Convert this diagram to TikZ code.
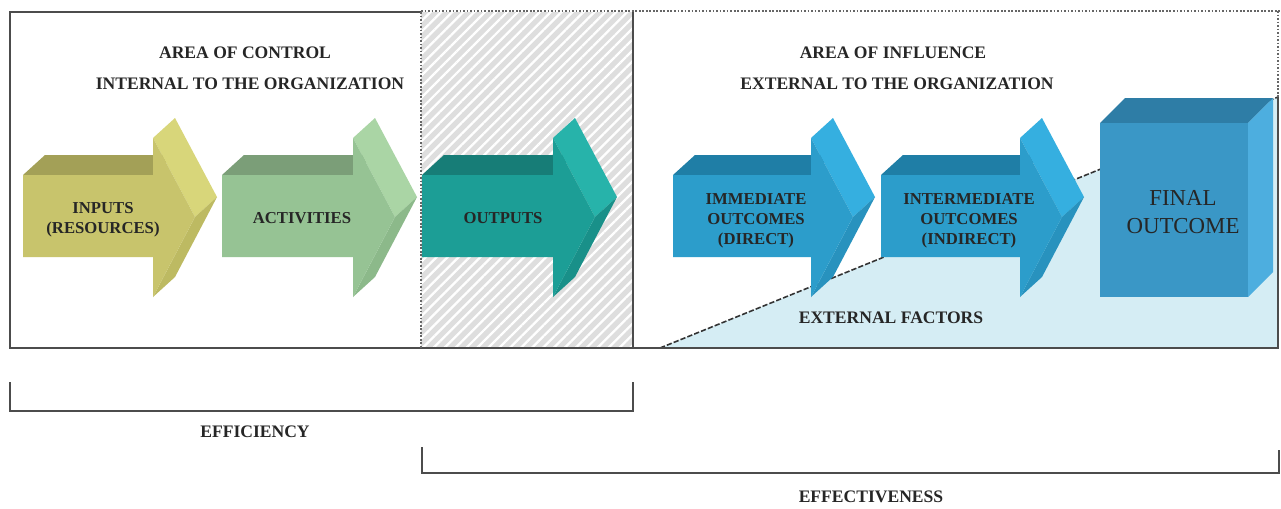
\documentclass[tikz,border=0pt]{standalone}
\usepackage{fontspec}
\setmainfont{Liberation Serif}
\usetikzlibrary{patterns.meta}

\definecolor{inputsfront}{HTML}{C8C46C}
\definecolor{inputstop}{HTML}{A3A057}
\definecolor{inputshead}{HTML}{D8D67A}
\definecolor{inputslow}{HTML}{BDBA62}
\definecolor{activfront}{HTML}{96C394}
\definecolor{activtop}{HTML}{7B9E78}
\definecolor{activhead}{HTML}{AAD5A5}
\definecolor{activlow}{HTML}{8CB98A}
\definecolor{outfront}{HTML}{1C9E96}
\definecolor{outtop}{HTML}{177D77}
\definecolor{outhead}{HTML}{27B3AA}
\definecolor{outlow}{HTML}{199089}
\definecolor{outcfront}{HTML}{2C9DCB}
\definecolor{outctop}{HTML}{1F7EA6}
\definecolor{outchead}{HTML}{35AFE0}
\definecolor{outclow}{HTML}{2892BE}
\definecolor{finalfront}{HTML}{3A97C6}
\definecolor{finaltop}{HTML}{2E7DA6}
\definecolor{finalside}{HTML}{4DAEDF}
\definecolor{extfill}{HTML}{D5EDF4}
\definecolor{hatchgray}{HTML}{DEDEDE}

% 3D-Pfeil: linker Rand, Beginn der Spitze, Front, Oberseite, Spitze oben, Spitze unten
\newcommand{\blockarrow}[6]{
  \fill[#4] (#1,175) -- (#1+22,155) -- (#2+22,155) -- (#2,175) -- cycle;
  \fill[#5] (#2,138) -- (#2+22,118) -- (#2+64,197) -- (#2+42,217) -- cycle;
  \fill[#6] (#2+42,217) -- (#2+64,197) -- (#2+22,277) -- (#2,297) -- cycle;
  \fill[#3] (#1,175) -- (#2,175) -- (#2,138) -- (#2+42,217) -- (#2,297)
    -- (#2,257) -- (#1,257) -- cycle;
}

\begin{document}
\begin{tikzpicture}[x=0.02cm,y=-0.02cm,
  caps/.style={font=\fontsize{10}{11.3}\selectfont\bfseries,text=black!85,
    inner sep=0pt,align=center},
  framing/.style={draw=black!70,line width=1.1pt},
  dotline/.style={draw=black!60,line width=0.6pt,dash pattern=on 1pt off 1pt}]
  \useasboundingbox[fill=white] (0,0) rectangle (1281,508);

  % Bereiche
  \fill[hatchgray] (421,12) rectangle (633,348);
  \fill[pattern={Lines[angle=45,distance=4.4pt,line width=1.3pt]},pattern color=white]
    (421,12) rectangle (633,348);
  \fill[extfill] (660,348) -- (1278,97) -- (1278,348) -- cycle;
  \draw[black!80,line width=0.9pt,dash pattern=on 3pt off 1.2pt] (660,348) -- (1278,97);

  \draw[framing] (421,12) -- (10,12) -- (10,348) -- (1278,348) -- (1278,97);
  \draw[framing] (633,12) -- (633,348);
  \draw[dotline] (421,12) -- (421,348);
  \draw[dotline] (421,11) -- (1281,11);
  \draw[dotline] (1278,11) -- (1278,97);

  % Pfeile
  \blockarrow{23}{153}{inputsfront}{inputstop}{inputshead}{inputslow}
  \blockarrow{222}{353}{activfront}{activtop}{activhead}{activlow}
  \blockarrow{422}{553}{outfront}{outtop}{outhead}{outlow}
  \blockarrow{673}{811}{outcfront}{outctop}{outchead}{outclow}
  \blockarrow{881}{1020}{outcfront}{outctop}{outchead}{outclow}

  \fill[finaltop] (1100,123) -- (1125,98) -- (1273,98) -- (1248,123) -- cycle;
  \fill[finalside] (1248,123) -- (1273,98) -- (1273,272) -- (1248,297) -- cycle;
  \fill[finalfront] (1100,123) rectangle (1248,297);

  % Texte
  \node[caps] (control-title) at (245,53) {AREA OF CONTROL};
  \node[caps] (control-sub) at (250,84) {INTERNAL TO THE ORGANIZATION};
  \node[caps] (influence-title) at (893,53) {AREA OF INFLUENCE};
  \node[caps] (influence-sub) at (897,84) {EXTERNAL TO THE ORGANIZATION};
  \node[caps,font=\fontsize{9.5}{11.3}\selectfont\bfseries] (inputs) at (103,220) {INPUTS\\(RESOURCES)};
  \node[caps,font=\fontsize{9.5}{11.3}\selectfont\bfseries] (activities) at (302,218) {ACTIVITIES};
  \node[caps,font=\fontsize{9.5}{11.3}\selectfont\bfseries] (outputs) at (503,218) {OUTPUTS};
  \node[caps,font=\fontsize{9.5}{11.3}\selectfont\bfseries] (immediate) at (756,221) {IMMEDIATE\\OUTCOMES\\(DIRECT)};
  \node[caps,font=\fontsize{9.5}{11.3}\selectfont\bfseries] (intermediate) at (969,221) {INTERMEDIATE\\OUTCOMES\\(INDIRECT)};
  \node[caps,font=\fontsize{13}{16.4}\selectfont] (final) at (1183,212) {FINAL\\OUTCOME};
  \node[caps] (external) at (891,318) {EXTERNAL FACTORS};

  % Klammern
  \draw[framing] (10,382) -- (10,411) -- (633,411) -- (633,382);
  \node[caps] (efficiency) at (255,432) {EFFICIENCY};
  \draw[framing] (422,447) -- (422,473) -- (1279,473) -- (1279,450);
  \node[caps] (effectiveness) at (871,497) {EFFECTIVENESS};
\end{tikzpicture}
\end{document}
